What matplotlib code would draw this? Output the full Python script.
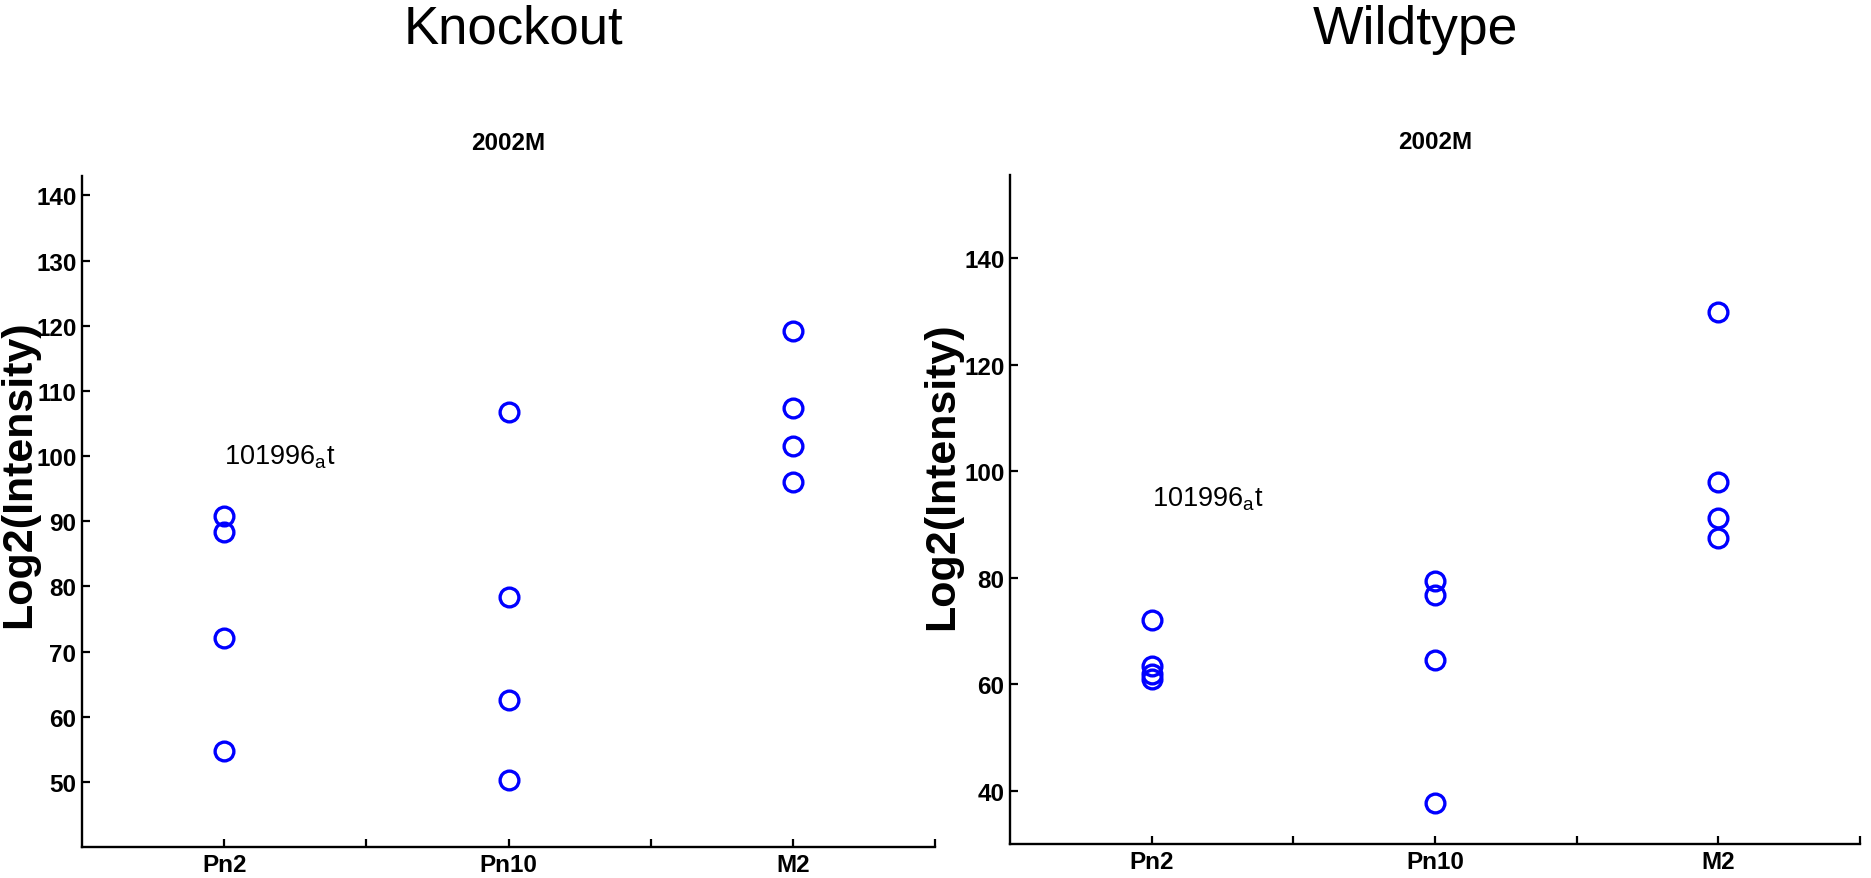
import matplotlib
matplotlib.use("Agg")
import matplotlib.pyplot as plt

plt.rcParams['font.family'] = ['Liberation Sans', 'DejaVu Sans']
plt.rcParams['mathtext.default'] = 'regular'

#Groups on the x axis
groups = ["Pn2", "Pn10", "M2"]
group_pos = [1, 2, 3]

#Knockout values (4 replicates per group)
ko_pn2 = [90.8, 88.4, 72.0, 54.7]
ko_pn10 = [106.8, 78.4, 62.5, 50.3]
ko_m2 = [119.2, 107.4, 101.6, 96.0]

#Wildtype values
wt_pn2 = [72.0, 63.5, 62.0, 61.0]
wt_pn10 = [79.3, 76.8, 64.6, 37.7]
wt_m2 = [129.8, 97.9, 91.3, 87.4]

probe_label = "101996$_{a}$t"
ko_label_y = 100
wt_label_y = 95

fig = plt.figure(figsize=(18.71, 8.79), dpi=100)

def draw_panel(rect, values, ylim, yticks, label_y, ylab_x, ylab_y):
    ax = fig.add_axes(rect)
    for pos, vals in zip(group_pos, values):
        ax.plot([pos]*len(vals), vals, 'o', mfc='none', mec='#0000ff', ms=13.5, mew=2.4, ls='none')
    ax.set_xlim(0.5, 3.5)
    ax.set_ylim(*ylim)
    ax.set_xticks([1, 1.5, 2, 2.5, 3, 3.5])
    ax.set_xticklabels([groups[0], "", groups[1], "", groups[2], ""])
    ax.set_yticks(yticks)
    for s in ["top", "right"]:
        ax.spines[s].set_visible(False)
    for s in ["left", "bottom"]:
        ax.spines[s].set_linewidth(1.7)
    ax.tick_params(direction='in', length=6, width=1.6, labelsize=17.5, pad=4)
    for lab in ax.get_xticklabels() + ax.get_yticklabels():
        lab.set_fontweight('bold')
    ax.text(0.5, 1.05, "2002M", transform=ax.transAxes, ha='center', va='center',
            fontsize=17.5, fontweight='bold')
    ax.text(1, label_y, probe_label, ha='left', va='center', fontsize=19.5)
    ax.set_ylabel("Log2(Intensity)", fontsize=31, fontweight='bold', va='center')
    ax.yaxis.set_label_coords(ylab_x, ylab_y)
    return ax

ax1 = draw_panel([0.0438, 0.0353, 0.456, 0.7634], [ko_pn2, ko_pn10, ko_m2],
                 (40, 143), range(50, 141, 10), ko_label_y, -0.074, 0.557)
ax2 = draw_panel([0.5398, 0.0387, 0.4543, 0.761], [wt_pn2, wt_pn10, wt_m2],
                 (30, 155.6), range(40, 141, 20), wt_label_y, -0.080, 0.552)

fig.text(513/1871, 1 - 30/879, "Knockout", ha='center', va='center', fontsize=38)
fig.text(1415/1871, 1 - 30/879, "Wildtype", ha='center', va='center', fontsize=38.5)

plt.savefig("out.png", dpi=100)
plt.close()
